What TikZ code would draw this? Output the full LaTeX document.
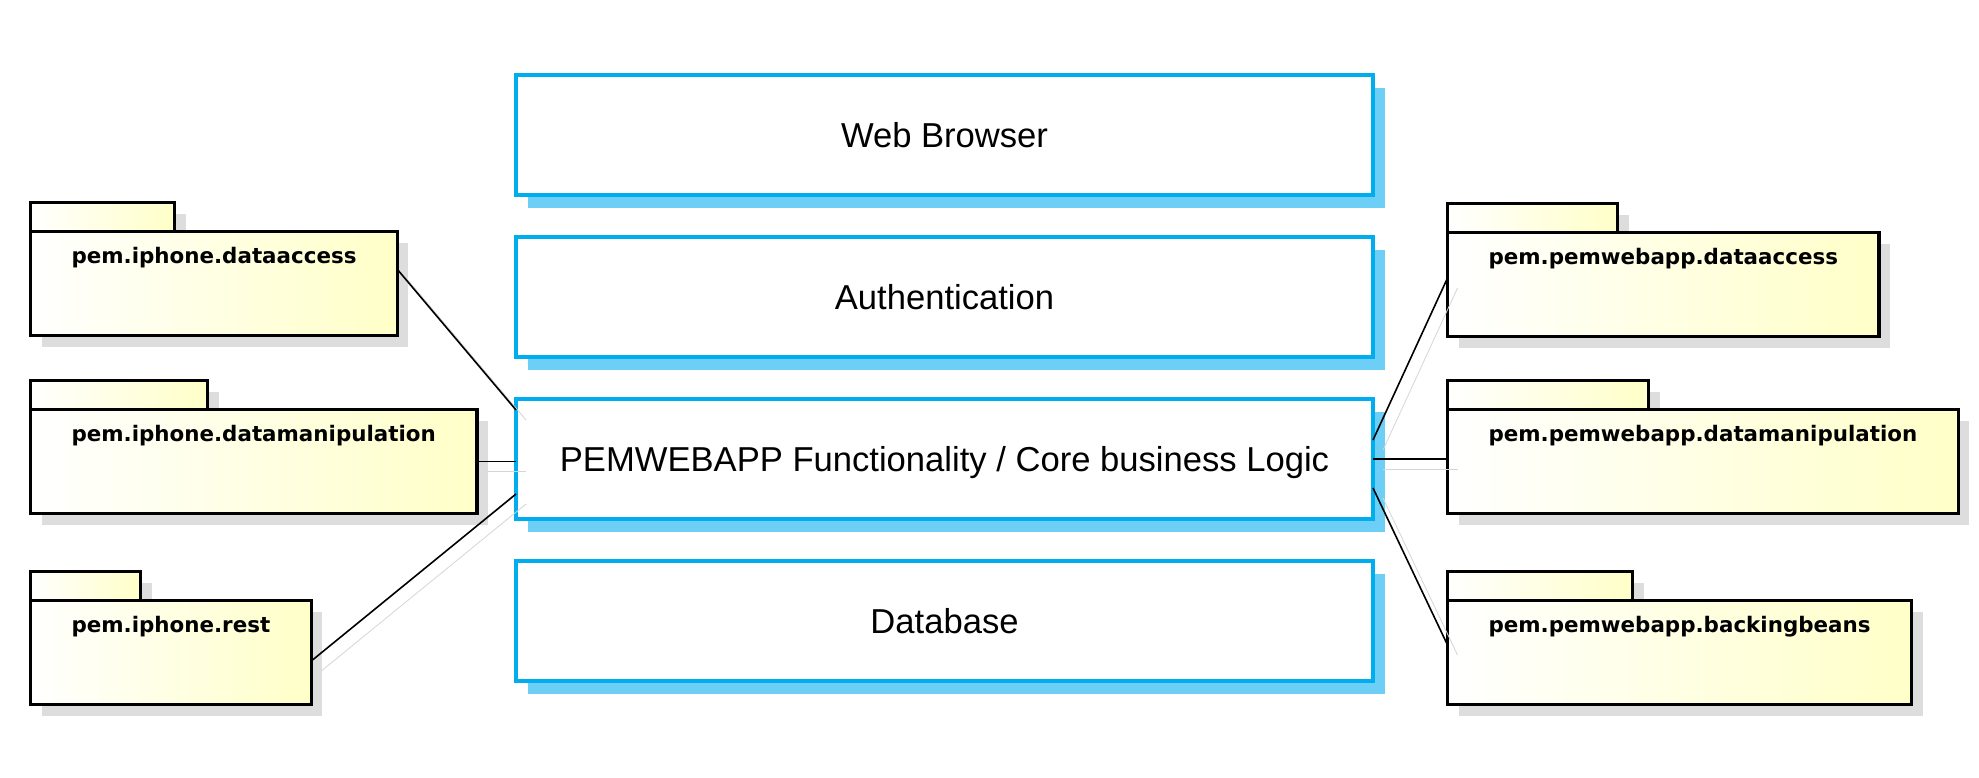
\documentclass[tikz,border=0pt]{standalone}
\usepackage{fontspec}
\setmainfont{Liberation Sans}
\newfontfamily\pkgfont{DejaVu Sans}
\usetikzlibrary{shadows}
\definecolor{layerblue}{HTML}{00AEEF}
\definecolor{layershadow}{HTML}{6DCFF6}
\definecolor{pkgyellow}{HTML}{FFFFC8}
\definecolor{pkgshadow}{HTML}{DDDDDD}
\definecolor{linkshadow}{HTML}{D5D5D5}

\begin{document}
\begin{tikzpicture}[x=0.5pt,y=-0.5pt,
        layer/.style={draw=layerblue,line width=2pt,fill=white,minimum width=428.5pt,minimum height=60pt,
            inner sep=0pt,outer sep=0pt,font=\fontsize{17.3}{20}\selectfont,text height=12.5pt,text depth=0pt,
            drop shadow={shadow xshift=6pt,shadow yshift=-6.5pt,fill=layershadow,opacity=1}},
        pkg/.style={draw=black,line width=1.7pt,left color=white,right color=pkgyellow,inner xsep=20.5pt,inner ysep=0pt,
            outer sep=0pt,anchor=north west,text height=15.75pt,text depth=36.25pt,
            font=\pkgfont\bfseries\fontsize{10.7}{12}\selectfont,
            drop shadow={shadow xshift=5.5pt,shadow yshift=-5.5pt,fill=pkgshadow,opacity=1}},
        pkgtab/.style={pkg,inner sep=0pt,text height=0pt,text depth=0pt,minimum height=14.5pt,anchor=south west},
        link/.style={line width=0.8pt,preaction={draw=linkshadow,transform canvas={xshift=5pt,yshift=-5pt}}}]
    \useasboundingbox (0,0) rectangle (1979,777);

    % layers in the middle
    \node[layer] (browser) at (944.5,135) {Web Browser};
    \node[layer] (auth) at (944.5,297) {Authentication};
    \node[layer] (func) at (944.5,459) {PEMWEBAPP Functionality / Core business Logic};
    \node[layer] (db) at (944.5,621) {Database};

    % iphone packages
    \node[pkgtab,minimum width=72pt] (ipda-tab) at (30.5,231.5) {};
    \node[pkg] (ipda) at (30.5,231.5) {pem.iphone.dataaccess};
    \node[pkgtab,minimum width=88.5pt] (ipdm-tab) at (30.5,409.5) {};
    \node[pkg] (ipdm) at (30.5,409.5) {pem.iphone.datamanipulation};
    \node[pkgtab,minimum width=55pt] (iprest-tab) at (30.5,600.5) {};
    \node[pkg] (iprest) at (30.5,600.5) {pem.iphone.rest};

    % pemwebapp packages
    \node[pkgtab,minimum width=85pt] (pwda-tab) at (1447.5,232.5) {};
    \node[pkg] (pwda) at (1447.5,232.5) {pem.pemwebapp.dataaccess};
    \node[pkgtab,minimum width=100.5pt] (pwdm-tab) at (1447.5,409.5) {};
    \node[pkg] (pwdm) at (1447.5,409.5) {pem.pemwebapp.datamanipulation};
    \node[pkgtab,minimum width=92.5pt] (pwbb-tab) at (1447.5,600.5) {};
    \node[pkg] (pwbb) at (1447.5,600.5) {pem.pemwebapp.backingbeans};

    % links
    \draw[link] ([yshift=7pt]ipda.east) -- ([yshift=24.5pt]func.west);
    \draw[link] (ipdm.east) -- (ipdm.east -| func.west);
    \draw[link] ([yshift=-4.25pt]iprest.east) -- ([yshift=-17.5pt]func.west);
    \draw[link] ([yshift=9.5pt]func.east) -- ([yshift=3.25pt]pwda.west);
    \draw[link] (func.east) -- (func.east -| pwdm.west);
    \draw[link] ([yshift=-14.5pt]func.east) -- ([yshift=3.75pt]pwbb.west);
\end{tikzpicture}
\end{document}
